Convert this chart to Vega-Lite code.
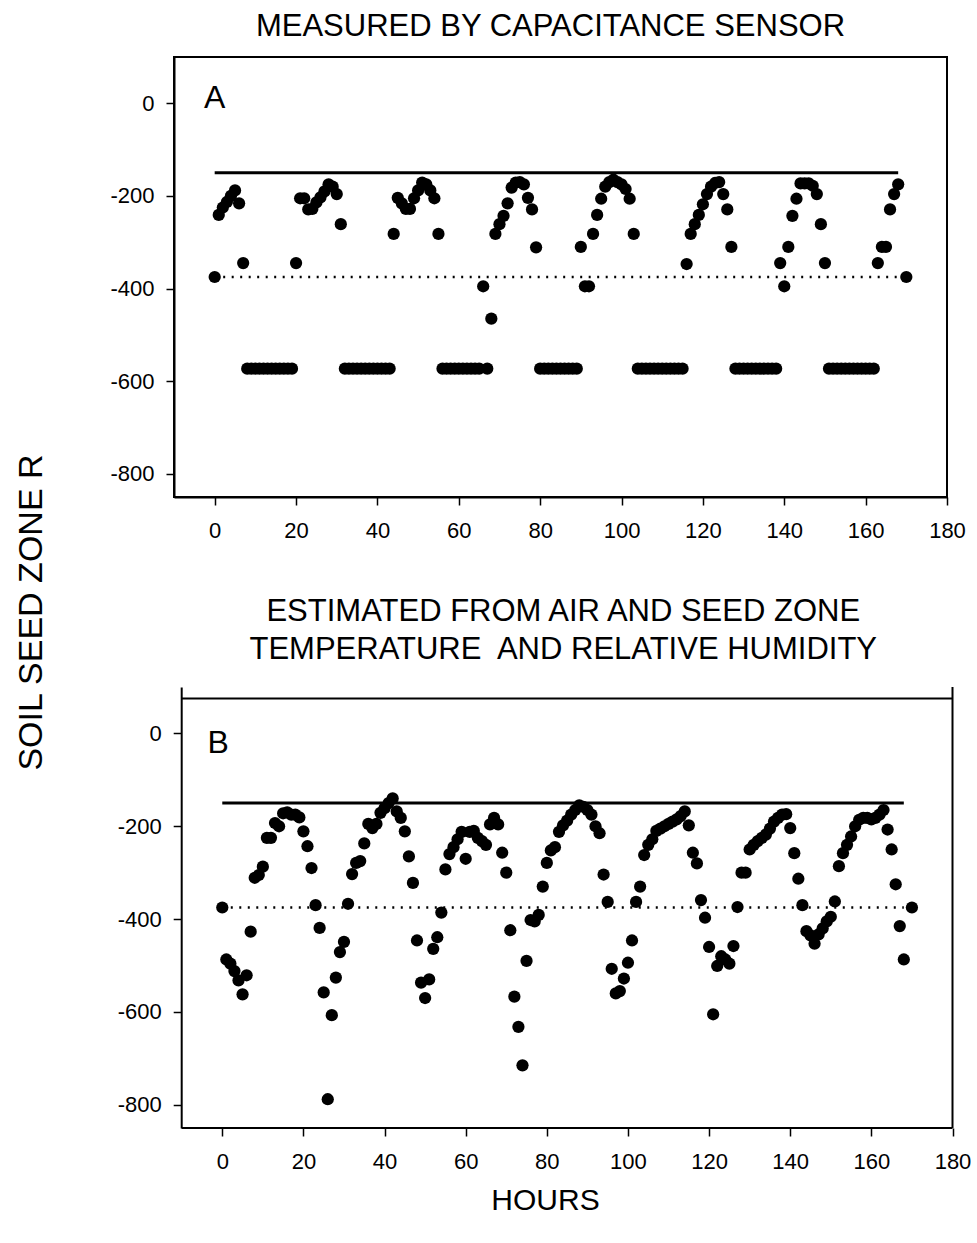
{
  "$schema": "https://vega.github.io/schema/vega-lite/v6.json",
  "background": "white",
  "padding": {"left": 13, "top": 10, "right": 5, "bottom": 5},
  "config": {
    "font": "Liberation Sans",
    "view": {"stroke": null},
    "axis": {"domainColor": "black", "domainWidth": 2, "tickColor": "black", "tickWidth": 1.5, "tickSize": 8, "labelColor": "black", "labelFontSize": 22, "labelFont": "Liberation Sans", "labelFlush": false, "grid": false, "titleColor": "black", "titleFontWeight": "normal", "titleFont": "Liberation Sans"},
    "title": {"font": "Liberation Sans", "fontWeight": "normal", "color": "black", "fontSize": 31}
  },
  "datasets": {
    "ptsA": [
      {"x":0,"y":-375},{"x":1,"y":-241},{"x":2,"y":-225},{"x":3,"y":-213},{"x":4,"y":-200},{"x":5,"y":-188},{"x":6,"y":-216},{"x":7,"y":-345},
      {"x":8,"y":-573},{"x":9,"y":-573},{"x":10,"y":-573},{"x":11,"y":-573},{"x":12,"y":-573},{"x":13,"y":-573},{"x":14,"y":-573},{"x":15,"y":-573},{"x":16,"y":-573},{"x":17,"y":-573},{"x":18,"y":-573},{"x":19,"y":-573},
      {"x":20,"y":-345},{"x":21,"y":-205},{"x":22,"y":-205},{"x":23,"y":-229},{"x":24,"y":-228},{"x":25,"y":-214},{"x":26,"y":-203},{"x":27,"y":-190},{"x":28,"y":-175},{"x":29,"y":-180},{"x":30,"y":-196},{"x":31,"y":-261},
      {"x":32,"y":-573},{"x":33,"y":-573},{"x":34,"y":-573},{"x":35,"y":-573},{"x":36,"y":-573},{"x":37,"y":-573},{"x":38,"y":-573},{"x":39,"y":-573},{"x":40,"y":-573},{"x":41,"y":-573},{"x":42,"y":-573},{"x":43,"y":-573},
      {"x":44,"y":-282},{"x":45,"y":-204},{"x":46,"y":-216},{"x":47,"y":-228},{"x":48,"y":-228},{"x":49,"y":-205},{"x":50,"y":-188},{"x":51,"y":-171},{"x":52,"y":-175},{"x":53,"y":-188},{"x":54,"y":-205},{"x":55,"y":-282},
      {"x":56,"y":-573},{"x":57,"y":-573},{"x":58,"y":-573},{"x":59,"y":-573},{"x":60,"y":-573},{"x":61,"y":-573},{"x":62,"y":-573},{"x":63,"y":-573},{"x":64,"y":-573},{"x":65,"y":-573},
      {"x":66,"y":-395},{"x":67,"y":-573},{"x":68,"y":-465},{"x":69,"y":-282},{"x":70,"y":-261},{"x":71,"y":-243},{"x":72,"y":-216},{"x":73,"y":-182},{"x":74,"y":-171},{"x":75,"y":-170},{"x":76,"y":-175},{"x":77,"y":-204},{"x":78,"y":-229},{"x":79,"y":-311},
      {"x":80,"y":-573},{"x":81,"y":-573},{"x":82,"y":-573},{"x":83,"y":-573},{"x":84,"y":-573},{"x":85,"y":-573},{"x":86,"y":-573},{"x":87,"y":-573},{"x":88,"y":-573},{"x":89,"y":-573},
      {"x":90,"y":-310},{"x":91,"y":-395},{"x":92,"y":-395},{"x":93,"y":-282},{"x":94,"y":-241},{"x":95,"y":-206},{"x":96,"y":-180},{"x":97,"y":-170},{"x":98,"y":-165},{"x":99,"y":-170},{"x":100,"y":-175},{"x":101,"y":-185},{"x":102,"y":-206},{"x":103,"y":-282},
      {"x":104,"y":-573},{"x":105,"y":-573},{"x":106,"y":-573},{"x":107,"y":-573},{"x":108,"y":-573},{"x":109,"y":-573},{"x":110,"y":-573},{"x":111,"y":-573},{"x":112,"y":-573},{"x":113,"y":-573},{"x":114,"y":-573},{"x":115,"y":-573},
      {"x":116,"y":-347},{"x":117,"y":-282},{"x":118,"y":-261},{"x":119,"y":-241},{"x":120,"y":-218},{"x":121,"y":-196},{"x":122,"y":-180},{"x":123,"y":-172},{"x":124,"y":-170},{"x":125,"y":-196},{"x":126,"y":-229},{"x":127,"y":-310},
      {"x":128,"y":-573},{"x":129,"y":-573},{"x":130,"y":-573},{"x":131,"y":-573},{"x":132,"y":-573},{"x":133,"y":-573},{"x":134,"y":-573},{"x":135,"y":-573},{"x":136,"y":-573},{"x":137,"y":-573},{"x":138,"y":-573},
      {"x":139,"y":-345},{"x":140,"y":-395},{"x":141,"y":-310},{"x":142,"y":-243},{"x":143,"y":-206},{"x":144,"y":-173},{"x":145,"y":-173},{"x":146,"y":-173},{"x":147,"y":-178},{"x":148,"y":-196},{"x":149,"y":-261},{"x":150,"y":-345},
      {"x":151,"y":-573},{"x":152,"y":-573},{"x":153,"y":-573},{"x":154,"y":-573},{"x":155,"y":-573},{"x":156,"y":-573},{"x":157,"y":-573},{"x":158,"y":-573},{"x":159,"y":-573},{"x":160,"y":-573},{"x":161,"y":-573},{"x":162,"y":-573},
      {"x":163,"y":-345},{"x":164,"y":-310},{"x":165,"y":-310},{"x":166,"y":-229},{"x":167,"y":-196},{"x":168,"y":-175},{"x":170,"y":-375}
    ],
    "ptsB": [
      {"x":0,"y":-375},{"x":1,"y":-487},{"x":2,"y":-496},{"x":3,"y":-512},{"x":4,"y":-532},{"x":5,"y":-562},{"x":6,"y":-521},{"x":7,"y":-427},{"x":8,"y":-311},{"x":9,"y":-305},
      {"x":10,"y":-287},{"x":11,"y":-225},{"x":12,"y":-225},{"x":13,"y":-193},{"x":14,"y":-200},{"x":15,"y":-172},{"x":16,"y":-170},{"x":17,"y":-175},{"x":18,"y":-175},{"x":19,"y":-181},
      {"x":20,"y":-211},{"x":21,"y":-243},{"x":22,"y":-290},{"x":23,"y":-370},{"x":24,"y":-419},{"x":25,"y":-558},{"x":26,"y":-788},{"x":27,"y":-607},{"x":28,"y":-526},{"x":29,"y":-471},
      {"x":30,"y":-449},{"x":31,"y":-367},{"x":32,"y":-303},{"x":33,"y":-279},{"x":34,"y":-275},{"x":35,"y":-237},{"x":36,"y":-195},{"x":37,"y":-204},{"x":38,"y":-195},{"x":39,"y":-171},
      {"x":40,"y":-161},{"x":41,"y":-150},{"x":42,"y":-140},{"x":43,"y":-168},{"x":44,"y":-182},{"x":45,"y":-211},{"x":46,"y":-265},{"x":47,"y":-322},{"x":48,"y":-446},{"x":49,"y":-537},
      {"x":50,"y":-570},{"x":51,"y":-530},{"x":52,"y":-464},{"x":53,"y":-439},{"x":54,"y":-386},{"x":55,"y":-293},{"x":56,"y":-260},{"x":57,"y":-245},{"x":58,"y":-228},{"x":59,"y":-212},
      {"x":60,"y":-270},{"x":61,"y":-212},{"x":62,"y":-210},{"x":63,"y":-225},{"x":64,"y":-232},{"x":65,"y":-240},{"x":66,"y":-196},{"x":67,"y":-182},{"x":68,"y":-196},{"x":69,"y":-257},
      {"x":70,"y":-300},{"x":71,"y":-424},{"x":72,"y":-567},{"x":73,"y":-632},{"x":74,"y":-715},{"x":75,"y":-490},{"x":76,"y":-402},{"x":77,"y":-405},{"x":78,"y":-391},{"x":79,"y":-330},
      {"x":80,"y":-279},{"x":81,"y":-252},{"x":82,"y":-245},{"x":83,"y":-212},{"x":84,"y":-198},{"x":85,"y":-188},{"x":86,"y":-175},{"x":87,"y":-165},{"x":88,"y":-155},{"x":89,"y":-158},
      {"x":90,"y":-165},{"x":91,"y":-175},{"x":92,"y":-200},{"x":93,"y":-215},{"x":94,"y":-304},{"x":95,"y":-363},{"x":96,"y":-507},{"x":97,"y":-560},{"x":98,"y":-555},{"x":99,"y":-528},
      {"x":100,"y":-494},{"x":101,"y":-446},{"x":102,"y":-363},{"x":103,"y":-330},{"x":104,"y":-262},{"x":105,"y":-240},{"x":106,"y":-228},{"x":107,"y":-210},{"x":108,"y":-205},{"x":109,"y":-200},
      {"x":110,"y":-195},{"x":111,"y":-190},{"x":112,"y":-185},{"x":113,"y":-178},{"x":114,"y":-168},{"x":115,"y":-198},{"x":116,"y":-257},{"x":117,"y":-280},{"x":118,"y":-359},{"x":119,"y":-397},
      {"x":120,"y":-460},{"x":121,"y":-605},{"x":122,"y":-501},{"x":123,"y":-480},{"x":124,"y":-487},{"x":125,"y":-496},{"x":126,"y":-458},{"x":127,"y":-374},{"x":128,"y":-300},{"x":129,"y":-300},
      {"x":130,"y":-250},{"x":131,"y":-240},{"x":132,"y":-232},{"x":133,"y":-225},{"x":134,"y":-218},{"x":135,"y":-205},{"x":136,"y":-190},{"x":137,"y":-182},{"x":138,"y":-175},{"x":139,"y":-174},
      {"x":140,"y":-204},{"x":141,"y":-258},{"x":142,"y":-313},{"x":143,"y":-370},{"x":144,"y":-426},{"x":145,"y":-435},{"x":146,"y":-453},{"x":147,"y":-433},{"x":148,"y":-420},{"x":149,"y":-405},
      {"x":150,"y":-395},{"x":151,"y":-362},{"x":152,"y":-286},{"x":153,"y":-258},{"x":154,"y":-240},{"x":155,"y":-222},{"x":156,"y":-200},{"x":157,"y":-186},{"x":158,"y":-182},{"x":159,"y":-182},
      {"x":160,"y":-185},{"x":161,"y":-182},{"x":162,"y":-175},{"x":163,"y":-165},{"x":164,"y":-207},{"x":165,"y":-250},{"x":166,"y":-325},{"x":167,"y":-415},{"x":168,"y":-487},{"x":170,"y":-375}
    ],
    "solid": [{"x":0,"x2":168,"y":-150,"y2":-150}],
    "dotted": [{"x":0,"x2":168,"y":-375,"y2":-375}],
    "frameB": [
      {"x":-10,"x2":180,"y":75,"y2":75},
      {"x":-10,"x2":180,"y":-850,"y2":-850},
      {"x":180,"x2":180,"y":-850,"y2":100}
    ],
    "labA": [{"x":0,"y":-10,"label":"A"}],
    "labB": [{"x":-1,"y":-43,"label":"B"}]
  },
  "bounds": "flush",
  "spacing": 190,
  "vconcat": [
    {
      "width": 773,
      "height": 440,
      "title": {"text": "MEASURED BY CAPACITANCE SENSOR", "offset": 14, "dx": -10},
      "view": {"stroke": "black", "strokeWidth": 2},
      "encoding": {
        "x": {"field": "x", "type": "quantitative", "scale": {"domain": [-10, 180], "nice": false, "zero": false},
              "axis": {"values": [0,20,40,60,80,100,120,140,160,180], "title": null, "labelPadding": 15}},
        "y": {"field": "y", "type": "quantitative", "scale": {"domain": [-850, 100], "nice": false, "zero": false},
              "axis": {"values": [0,-200,-400,-600,-800], "labelExpr": "'' + datum.value", "labelPadding": 12,
                       "title": "SOIL SEED ZONE R", "titleFontSize": 34, "titleX": -143, "titleY": 555, "titleAngle": 270, "titleAlign": "center", "titleBaseline": "middle"}}
      },
      "layer": [
        {"data": {"name": "solid"}, "mark": {"type": "rule", "color": "black", "strokeWidth": 3}, "encoding": {"x2": {"field": "x2"}, "y2": {"field": "y2"}}},
        {"data": {"name": "dotted"}, "mark": {"type": "rule", "color": "black", "strokeWidth": 2.5, "strokeDash": [2, 6.5]}, "encoding": {"x2": {"field": "x2"}, "y2": {"field": "y2"}}},
        {"data": {"name": "ptsA"}, "mark": {"type": "circle", "color": "black", "opacity": 1, "size": 150}},
        {"data": {"name": "labA"}, "mark": {"type": "text", "fontSize": 32, "align": "center", "baseline": "alphabetic", "color": "black"}, "encoding": {"text": {"field": "label"}}}
      ]
    },
    {
      "width": 778.5,
      "height": 441,
      "title": {"text": ["ESTIMATED FROM AIR AND SEED ZONE", "TEMPERATURE\u00a0 AND RELATIVE HUMIDITY"], "offset": 20, "lineHeight": 38},
      "encoding": {
        "x": {"field": "x", "type": "quantitative", "scale": {"domain": [-11.9, 180], "nice": false, "zero": false},
              "axis": {"values": [0,20,40,60,80,100,120,140,160,180], "domain": false, "labelPadding": 15,
                       "title": "HOURS", "titleFontSize": 30, "titlePadding": 13, "titleX": 371, "titleAlign": "center"}},
        "y": {"field": "y", "type": "quantitative", "scale": {"domain": [-850, 100], "nice": false, "zero": false},
              "axis": {"values": [0,-200,-400,-600,-800], "labelExpr": "'' + datum.value", "labelPadding": 12, "offset": -7.2, "title": null}}
      },
      "layer": [
        {"data": {"name": "frameB"}, "mark": {"type": "rule", "color": "black", "strokeWidth": 2}, "encoding": {"x2": {"field": "x2"}, "y2": {"field": "y2"}}},
        {"data": {"name": "solid"}, "mark": {"type": "rule", "color": "black", "strokeWidth": 3}, "encoding": {"x2": {"field": "x2"}, "y2": {"field": "y2"}}},
        {"data": {"name": "dotted"}, "mark": {"type": "rule", "color": "black", "strokeWidth": 2.5, "strokeDash": [2, 6.5]}, "encoding": {"x2": {"field": "x2"}, "y2": {"field": "y2"}}},
        {"data": {"name": "ptsB"}, "mark": {"type": "circle", "color": "black", "opacity": 1, "size": 150}},
        {"data": {"name": "labB"}, "mark": {"type": "text", "fontSize": 32, "align": "center", "baseline": "alphabetic", "color": "black"}, "encoding": {"text": {"field": "label"}}}
      ]
    }
  ]
}
